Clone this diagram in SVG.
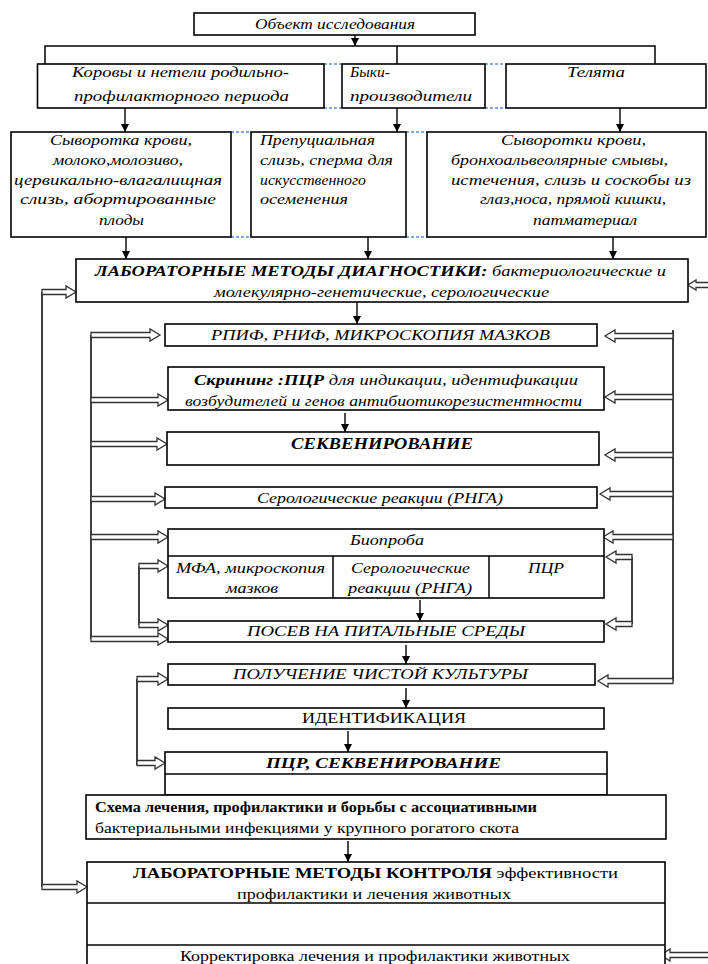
<svg xmlns="http://www.w3.org/2000/svg" width="708" height="964" viewBox="0 0 708 964" font-family="Liberation Serif, DejaVu Serif, serif">
<style>
.b{fill:#fff;stroke:#000;stroke-width:1.6}
.l{fill:none;stroke:#000;stroke-width:1.5}
.t{font-family:'Liberation Serif','DejaVu Serif',serif;font-size:15px;fill:#000}
.i{font-style:italic}
.bd{font-weight:bold}
.ha{fill:#fff;stroke:#333;stroke-width:1.3}
.ds{fill:none;stroke:#5b8fd6;stroke-width:1.5;stroke-dasharray:3 2}
.th{fill:none;stroke:#000;stroke-width:1.4;marker-end:url(#ah)}
</style>
<defs>
<marker id="ah" markerUnits="userSpaceOnUse" markerWidth="8" markerHeight="8" refX="8" refY="4" orient="auto"><path d="M0,0 L8,4 L0,8 Z" fill="#000"/></marker>
</defs>
<rect width="708" height="964" fill="#fff"/>

<g id="connectors">
<path class="th" d="M355 35 V46"/>
<path class="l" d="M45 64 V46 H655 V64 M397 46 V64"/>
<path class="th" d="M125 108 V132"/>
<path class="th" d="M397 108 V132"/>
<path class="th" d="M620 108 V132"/>
<path class="th" d="M126 237 V259"/>
<path class="th" d="M368 237 V259"/>
<path class="th" d="M613 237 V259"/>
<path class="th" d="M357 302 V324"/>
<path class="th" d="M345 413 V432"/>
<path class="th" d="M420 600 V621"/>
<path class="th" d="M406 645 V664"/>
<path class="th" d="M406 688 V708"/>
<path class="th" d="M348 731 V752"/>
<path class="th" d="M348 776 V795"/>
<path class="th" d="M348 841 V862"/>
<path class="th" d="M348 908 V940"/>
<path class="ds" d="M324 64 H342 M324 108 H342 M485 64 H506 M485 108 H506"/>
<path class="ds" d="M231 132 H251 M231 237 H251 M406 132 H427 M406 237 H427"/>
<path class="l" d="M42 292 V887"/>
<path class="l" d="M91 335 V639"/>
<path class="l" d="M139 566 V625"/>
<path class="l" d="M137 679 V765"/>
<path class="l" d="M673 330 V681"/>
<path class="l" d="M632 557 V624"/>
<path class="ha" d="M42 289.5 H66 V286 L76 292 L66 298 V294.5 H42 Z"/>
<path class="ha" d="M42 884.5 H77 V881 L87 887 L77 893 V889.5 H42 Z"/>
<path class="ha" d="M91 332.5 H150 V329 L160 335 L150 341 V337.5 H91 Z"/>
<path class="ha" d="M91 397.5 H158 V394 L168 400 L158 406 V402.5 H91 Z"/>
<path class="ha" d="M91 441.5 H157 V438 L167 444 L157 450 V446.5 H91 Z"/>
<path class="ha" d="M91 496.5 H155 V493 L165 499 L155 505 V501.5 H91 Z"/>
<path class="ha" d="M91 534.5 H158 V531 L168 537 L158 543 V539.5 H91 Z"/>
<path class="ha" d="M91 636.5 H158 V633 L168 639 L158 645 V641.5 H91 Z"/>
<path class="ha" d="M139 563.5 H158 V560 L168 566 L158 572 V568.5 H139 Z"/>
<path class="ha" d="M139 622.5 H158 V619 L168 625 L158 631 V627.5 H139 Z"/>
<path class="ha" d="M137 676.5 H158 V673 L168 679 L158 685 V681.5 H137 Z"/>
<path class="ha" d="M137 760.5 H155 V757 L165 763 L155 769 V765.5 H137 Z"/>
<path class="ha" d="M673 333.5 H615 V330 L605 336 L615 342 V338.5 H673 Z"/>
<path class="ha" d="M673 394.5 H615 V391 L605 397 L615 403 V399.5 H673 Z"/>
<path class="ha" d="M673 452.5 H615 V449 L605 455 L615 461 V457.5 H673 Z"/>
<path class="ha" d="M673 491.5 H610 V488 L600 494 L610 500 V496.5 H673 Z"/>
<path class="ha" d="M673 534.5 H613 V531 L603 537 L613 543 V539.5 H673 Z"/>
<path class="ha" d="M673 678.5 H608 V675 L598 681 L608 687 V683.5 H673 Z"/>
<path class="ha" d="M632 554.5 H616 V551 L606 557 L616 563 V559.5 H632 Z"/>
<path class="ha" d="M632 621.5 H616 V618 L606 624 L616 630 V626.5 H632 Z"/>
<path class="ha" d="M710 282.5 H696 V280 L688 285 L696 290 V287.5 H710 Z"/>
<path class="ha" d="M710 952.5 H670 V949 L661 955 L670 961 V957.5 H710 Z"/>
</g>

<g id="n-object">
<rect class="b" x="194" y="13" width="281" height="22"/>
<text class="t i" x="255" y="29" textLength="160" lengthAdjust="spacingAndGlyphs">Объект исследования</text>
</g>

<g id="n-cows">
<rect class="b" x="37.5" y="64" width="286.5" height="44"/>
<text class="t i" x="72" y="77" textLength="217" lengthAdjust="spacingAndGlyphs">Коровы и нетели родильно-</text>
<text class="t i" x="74" y="101" textLength="215" lengthAdjust="spacingAndGlyphs">профилакторного периода</text>
</g>
<g id="n-bulls">
<rect class="b" x="342" y="64" width="143" height="44"/>
<text class="t i" x="350" y="77" textLength="40" lengthAdjust="spacingAndGlyphs">Быки-</text>
<text class="t i" x="350" y="101" textLength="122" lengthAdjust="spacingAndGlyphs">производители</text>
</g>
<g id="n-calves">
<rect class="b" x="506" y="64" width="200" height="44"/>
<text class="t i" x="567" y="77" textLength="58" lengthAdjust="spacingAndGlyphs">Телята</text>
</g>

<g id="n-samples-cows">
<rect class="b" x="11" y="132" width="220" height="105"/>
<text class="t i" x="50" y="145" textLength="142" lengthAdjust="spacingAndGlyphs">Сыворотка крови,</text>
<text class="t i" x="53" y="165" textLength="130" lengthAdjust="spacingAndGlyphs">молоко,молозиво,</text>
<text class="t i" x="14" y="185" textLength="208" lengthAdjust="spacingAndGlyphs">цервикально-влагалищная</text>
<text class="t i" x="20" y="204" textLength="196" lengthAdjust="spacingAndGlyphs">слизь,  абортированные</text>
<text class="t i" x="99" y="225" textLength="45" lengthAdjust="spacingAndGlyphs">плоды</text>
</g>
<g id="n-samples-bulls">
<rect class="b" x="251" y="132" width="155" height="105"/>
<text class="t i" x="260" y="145" textLength="115" lengthAdjust="spacingAndGlyphs">Препуциальная</text>
<text class="t i" x="260" y="165" textLength="133" lengthAdjust="spacingAndGlyphs">слизь, сперма для</text>
<text class="t i" x="260" y="185" textLength="106" lengthAdjust="spacingAndGlyphs">искусственного</text>
<text class="t i" x="260" y="204" textLength="88" lengthAdjust="spacingAndGlyphs">осеменения</text>
</g>
<g id="n-samples-calves">
<rect class="b" x="427" y="132" width="279" height="105"/>
<text class="t i" x="501" y="145" textLength="145" lengthAdjust="spacingAndGlyphs">Сыворотки крови,</text>
<text class="t i" x="451" y="165" textLength="217" lengthAdjust="spacingAndGlyphs">бронхоальвеолярные смывы,</text>
<text class="t i" x="451" y="185" textLength="240" lengthAdjust="spacingAndGlyphs">истечения, слизь и  соскобы из</text>
<text class="t i" x="480" y="204" textLength="186" lengthAdjust="spacingAndGlyphs">глаз,носа, прямой кишки,</text>
<text class="t i" x="533" y="225" textLength="104" lengthAdjust="spacingAndGlyphs">патматериал</text>
</g>

<g id="n-lab">
<rect class="b" x="76" y="259" width="612" height="43"/>
<text class="t i" x="95" y="276" textLength="571" lengthAdjust="spacingAndGlyphs"><tspan class="bd">ЛАБОРАТОРНЫЕ МЕТОДЫ ДИАГНОСТИКИ:</tspan> бактериологические и</text>
<text class="t i" x="214" y="297" textLength="335" lengthAdjust="spacingAndGlyphs">молекулярно-генетические,  серологические</text>
</g>

<g id="n-rpif">
<rect class="b" x="165" y="324" width="432" height="22"/>
<text class="t i" x="211" y="340" textLength="339" lengthAdjust="spacingAndGlyphs">РПИФ, РНИФ, МИКРОСКОПИЯ МАЗКОВ</text>
</g>

<g id="n-screening">
<rect class="b" x="168" y="367" width="436" height="43"/>
<text class="t i" x="194" y="385" textLength="384" lengthAdjust="spacingAndGlyphs"><tspan class="bd">Скрининг :ПЦР</tspan> для индикации, идентификации</text>
<text class="t i" x="185" y="406" textLength="397" lengthAdjust="spacingAndGlyphs">возбудителей и генов антибиотикорезистентности</text>
</g>

<g id="n-seq">
<rect class="b" x="167" y="432" width="432" height="33"/>
<text class="t i bd" x="291" y="449" style="font-size:16px" textLength="182" lengthAdjust="spacingAndGlyphs">СЕКВЕНИРОВАНИЕ</text>
</g>

<g id="n-serol">
<rect class="b" x="165" y="487" width="432" height="21"/>
<text class="t i" x="257" y="503" textLength="246" lengthAdjust="spacingAndGlyphs">Серологические реакции (РНГА)</text>
</g>

<g id="n-bioassay">
<rect class="b" x="168" y="529" width="436" height="69"/>
<path class="l" d="M168 556 H604 M333 556 V598 M489 556 V598"/>
<text class="t i" x="350" y="545" textLength="74" lengthAdjust="spacingAndGlyphs">Биопроба</text>
<text class="t i" x="176" y="573" textLength="149" lengthAdjust="spacingAndGlyphs">МФА, микроскопия</text>
<text class="t i" x="226" y="593" textLength="52" lengthAdjust="spacingAndGlyphs">мазков</text>
<text class="t i" x="351" y="573" textLength="119" lengthAdjust="spacingAndGlyphs">Серологические</text>
<text class="t i" x="348" y="593" textLength="124" lengthAdjust="spacingAndGlyphs">реакции (РНГА)</text>
<text class="t i" x="528" y="573" textLength="36" lengthAdjust="spacingAndGlyphs">ПЦР</text>
</g>

<g id="n-culture-media">
<rect class="b" x="168" y="621" width="436" height="21"/>
<text class="t i" x="247" y="636" textLength="278" lengthAdjust="spacingAndGlyphs">ПОСЕВ НА ПИТАЛЬНЫЕ  СРЕДЫ</text>
</g>

<g id="n-pure-culture">
<rect class="b" x="168" y="664" width="427" height="21"/>
<text class="t i" x="233" y="679" textLength="295" lengthAdjust="spacingAndGlyphs">ПОЛУЧЕНИЕ ЧИСТОЙ КУЛЬТУРЫ</text>
</g>

<g id="n-ident">
<rect class="b" x="168" y="708" width="436" height="21"/>
<text class="t" x="302" y="723" textLength="164" lengthAdjust="spacingAndGlyphs">ИДЕНТИФИКАЦИЯ</text>
</g>

<g id="n-pcr-seq">
<rect class="b" x="165" y="752" width="442" height="43"/>
<path class="l" d="M165 774 H607"/>
<text class="t i bd" x="266" y="768" textLength="235" lengthAdjust="spacingAndGlyphs">ПЦР, СЕКВЕНИРОВАНИЕ</text>
</g>

<g id="n-scheme">
<rect class="b" x="86" y="795" width="580" height="44"/>
<text class="t bd" x="95" y="812" textLength="442" lengthAdjust="spacingAndGlyphs">Схема лечения, профилактики и борьбы с ассоциативными</text>
<text class="t" x="95" y="833" textLength="424" lengthAdjust="spacingAndGlyphs">бактериальными инфекциями у крупного рогатого скота</text>
</g>

<g id="n-control">
<rect class="b" x="87" y="862" width="578" height="120"/>
<path class="l" d="M87 903 H665 M87 945 H665"/>
<text class="t" x="133" y="878" textLength="485" lengthAdjust="spacingAndGlyphs"><tspan class="bd">ЛАБОРАТОРНЫЕ МЕТОДЫ КОНТРОЛЯ</tspan> эффективности</text>
<text class="t" x="237" y="899" textLength="274" lengthAdjust="spacingAndGlyphs">профилактики и лечения  животных</text>
<text class="t" x="180" y="961" textLength="390" lengthAdjust="spacingAndGlyphs">Корректировка лечения и профилактики животных</text>
</g>
</svg>
